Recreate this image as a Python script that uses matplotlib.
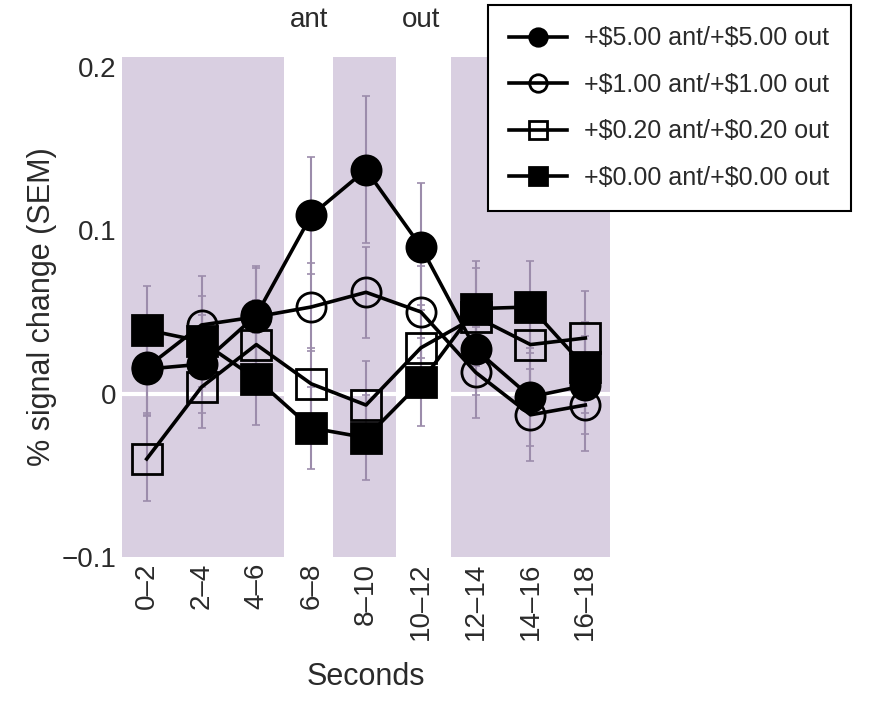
import matplotlib.pyplot as plt
from matplotlib.transforms import blended_transform_factory

plt.rcParams['font.family'] = ['Liberation Sans', 'DejaVu Sans']
plt.rcParams['text.color'] = '#2a2a2a'
plt.rcParams['xtick.color'] = '#2a2a2a'
plt.rcParams['ytick.color'] = '#2a2a2a'
plt.rcParams['axes.labelcolor'] = '#2a2a2a'

# time bins
bins = ["0–2", "2–4", "4–6", "6–8", "8–10", "10–12", "12–14", "14–16", "16–18"]

# % signal change per condition
y_500 = [0.015, 0.018, 0.048, 0.109, 0.137, 0.090, 0.027, -0.002, 0.005]
y_100 = [0.016, 0.042, 0.047, 0.053, 0.062, 0.050, 0.013, -0.013, -0.007]
y_020 = [-0.040, 0.004, 0.030, 0.006, -0.007, 0.028, 0.047, 0.030, 0.034]
y_000 = [0.039, 0.032, 0.009, -0.021, -0.027, 0.007, 0.052, 0.053, 0.016]

# SEM
e_500 = [0.028, 0.030, 0.030, 0.036, 0.045, 0.039, 0.028, 0.030, 0.030]
e_100 = [0.028, 0.030, 0.030, 0.027, 0.028, 0.028, 0.028, 0.028, 0.028]
e_020 = [0.026, 0.025, 0.027, 0.022, 0.027, 0.026, 0.030, 0.030, 0.029]
e_000 = [0.027, 0.028, 0.028, 0.025, 0.026, 0.027, 0.029, 0.028, 0.028]

labels = ["+\\$5.00 ant/+\\$5.00 out", "+\\$1.00 ant/+\\$1.00 out",
          "+\\$0.20 ant/+\\$0.20 out", "+\\$0.00 ant/+\\$0.00 out"]

# shaded periods (in bin index units)
bands = [(-0.45, 2.5), (3.4, 4.55), (5.55, 8.45)]

fig = plt.figure(figsize=(8.7, 7.18), dpi=100)
ax = fig.add_axes([122 / 870, 1 - 557 / 718, (610 - 122) / 870, 500 / 718])

band_col = '#d9cfe1'
for a, b in bands:
    ax.axvspan(a, b, color=band_col, lw=0, zorder=0)
ax.axhline(0, color='white', lw=3, zorder=1)

x = list(range(len(bins)))
err_col = '#9c8cab'

series = [
    (y_020, e_020, 's', 'none', labels[2]),
    (y_100, e_100, 'o', 'none', labels[1]),
    (y_500, e_500, 'o', 'black', labels[0]),
    (y_000, e_000, 's', 'black', labels[3]),
]
handles = {}
for ys, es, m, fc, lab in series:
    ax.errorbar(x, ys, yerr=es, fmt='none', ecolor=err_col, elinewidth=1.5,
                capsize=3, capthick=1.2, zorder=2)
    ln, = ax.plot(x, ys, color='black', lw=2.6, marker=m, markersize=21,
                  markerfacecolor=fc, markeredgecolor='black', markeredgewidth=2,
                  zorder=3, label=lab)
    handles[lab] = ln

ax.set_xlim(-0.45, 8.45)
ax.set_ylim(-0.1, 0.206)
ax.set_xticks(x)
ax.set_xticklabels(bins, rotation=90, fontsize=20)
ax.set_yticks([-0.1, 0, 0.1, 0.2])
ax.set_yticklabels(["\u22120.1", "0", "0.1", "0.2"], fontsize=20)
ax.tick_params(length=0, pad=4)
for s in ax.spines.values():
    s.set_visible(False)

ax.set_xlabel("Seconds", fontsize=22, labelpad=16)
ax.set_ylabel("% signal change (SEM)", fontsize=22, labelpad=3)

tr = blended_transform_factory(ax.transData, ax.transAxes)
ax.text(2.96, 1.074, "ant", transform=tr, ha='center', va='center', fontsize=20)
ax.text(5.0, 1.074, "out", transform=tr, ha='center', va='center', fontsize=20)

leg = fig.legend([handles[l] for l in labels], labels,
                 loc='upper left', bbox_to_anchor=(488 / 870, 1 - 5 / 718),
                 borderaxespad=0, fontsize=18, markerscale=0.6, handlelength=2.3,
                 fancybox=False, framealpha=1, edgecolor='black',
                 borderpad=0.85, labelspacing=0.9, handletextpad=0.7)
leg.get_frame().set_linewidth(1.5)

fig.savefig("out.png", dpi=100)
